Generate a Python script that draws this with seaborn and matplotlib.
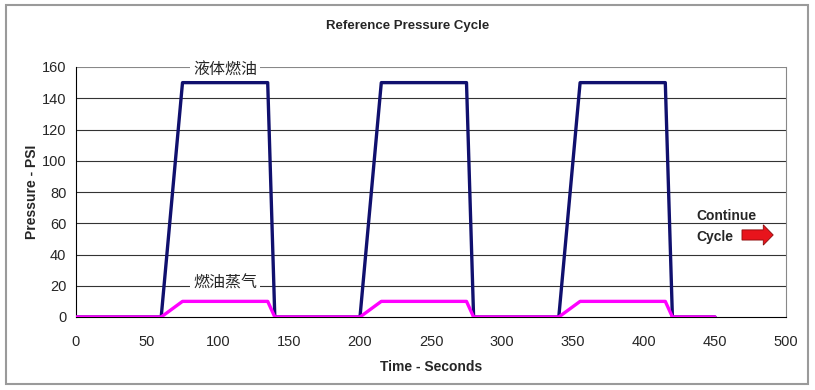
import pandas as pd
import matplotlib.pyplot as plt
import seaborn as sns
from matplotlib.patches import FancyArrow, Rectangle

# 数据
time_s = [0, 60, 75, 135, 140, 200, 215, 275, 280, 340, 355, 415, 420, 450]
liquid_psi = [0, 0, 150, 150, 0, 0, 150, 150, 0, 0, 150, 150, 0, 0]
vapor_psi = [0, 0, 10, 10, 0, 0, 10, 10, 0, 0, 10, 10, 0, 0]
series_names = ["液体燃油", "燃油蒸气"]
x_ticks = list(range(0, 501, 50))
y_ticks = list(range(0, 161, 20))

df = pd.DataFrame({
    "Time": time_s * 2,
    "Pressure": liquid_psi + vapor_psi,
    "Series": [series_names[0]] * len(time_s) + [series_names[1]] * len(time_s),
})

sns.set_style("white")
plt.rcParams["font.family"] = ["Liberation Sans", "Noto Sans CJK SC", "DejaVu Sans"]

fig = plt.figure(figsize=(8.15, 3.9), dpi=100)
ax = fig.add_axes([76 / 815, 1 - 317 / 390, 710 / 815, 250 / 390])

# 外框
fig.patches.append(Rectangle((6 / 815, 1 - 384 / 390), 802 / 815, 379 / 390,
                             transform=fig.transFigure, fill=False,
                             edgecolor="#9a9a9a", linewidth=1.5))

for y in y_ticks[1:]:
    ax.axhline(y, color="#333333" if y < 160 else "#888888", linewidth=0.8, zorder=1)

sns.lineplot(data=df, x="Time", y="Pressure", hue="Series",
             palette=["#10106e", "#ff00ff"], linewidth=2.4, legend=False,
             ax=ax, zorder=3)

ax.set_xlim(0, 500)
ax.set_ylim(0, 160)
ax.set_xticks(x_ticks)
ax.set_yticks(y_ticks)
ax.tick_params(axis="both", labelsize=10.5, direction="out", length=4,
               width=0.8, color="#000000", pad=3)
ax.tick_params(axis="x", pad=9)

ax.spines["top"].set_visible(False)
ax.spines["right"].set_color("#888888")
ax.spines["right"].set_linewidth(0.8)
ax.spines["left"].set_color("#000000")
ax.spines["left"].set_linewidth(0.8)
ax.spines["bottom"].set_color("#000000")
ax.spines["bottom"].set_linewidth(0.8)

ax.set_xlabel("Time - Seconds", fontsize=10, fontweight="bold", labelpad=8)
ax.set_ylabel("Pressure - PSI", fontsize=10, fontweight="bold", labelpad=2)
fig.text(408 / 815, 1 - 26 / 390, "Reference Pressure Cycle", ha="center",
         va="center", fontsize=9.5, fontweight="bold")

box = dict(facecolor="white", edgecolor="none", pad=2)
ax.text(105, 158, series_names[0], ha="center", va="center", fontsize=11.5,
        family=["Noto Sans CJK SC"], bbox=box, zorder=4)
ax.text(105, 21.8, series_names[1], ha="center", va="center", fontsize=11.5,
        family=["Noto Sans CJK SC"], bbox=box, zorder=4)

ax.text(437, 64.5, "Continue", ha="left", va="center", fontsize=10,
        fontweight="bold", zorder=4)
ax.text(437, 51.5, "Cycle", ha="left", va="center", fontsize=10,
        fontweight="bold", zorder=4)
ax.add_patch(FancyArrow(469, 52.5, 22, 0, width=6.5, head_width=13,
                        head_length=7, length_includes_head=True,
                        facecolor="#e8141c", edgecolor="#8a0a0a",
                        linewidth=0.6, zorder=4, clip_on=False))

fig.savefig("out.png", dpi=100)
